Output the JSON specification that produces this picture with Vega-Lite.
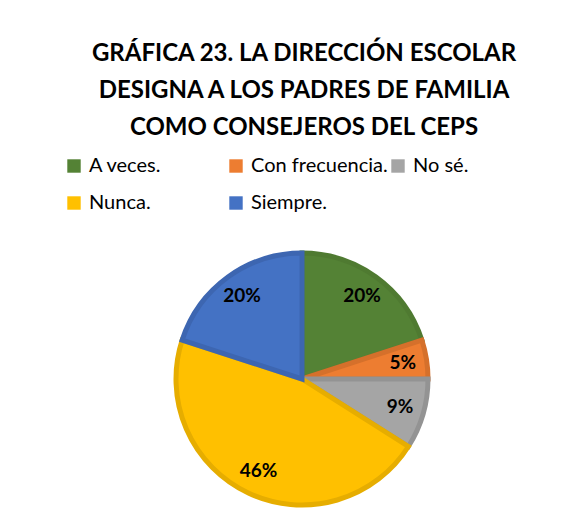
{
  "$schema": "https://vega.github.io/schema/vega-lite/v6.json",
  "width": 560,
  "height": 278,
  "autosize": {"type": "none"},
  "padding": {"left": 22, "top": 240, "right": 0, "bottom": 9},
  "background": "white",
  "title": {
    "text": ["GRÁFICA 23. LA DIRECCIÓN ESCOLAR", "DESIGNA A LOS PADRES DE FAMILIA", "COMO CONSEJEROS DEL CEPS"],
    "font": "Lato",
    "fontSize": 24,
    "fontWeight": "bold",
    "color": "#000000",
    "lineHeight": 37,
    "anchor": "middle",
    "frame": "group",
    "dx": 2,
    "offset": 16
  },
  "data": {
    "values": [
      {"cat": "A veces.", "v": 20, "lab": "20%"},
      {"cat": "Con frecuencia.", "v": 5, "lab": "5%"},
      {"cat": "No sé.", "v": 9, "lab": "9%"},
      {"cat": "Nunca.", "v": 46, "lab": "46%"},
      {"cat": "Siempre.", "v": 20, "lab": "20%"}
    ]
  },
  "encoding": {
    "theta": {"field": "v", "type": "quantitative", "stack": true},
    "order": {"field": "cat", "type": "nominal", "sort": "ascending"}
  },
  "layer": [
    {
      "mark": {"type": "arc", "outerRadius": 126, "strokeWidth": 5, "strokeJoin": "miter"},
      "encoding": {
        "fill": {
          "field": "cat", "type": "nominal",
          "scale": {"domain": ["A veces.", "Con frecuencia.", "No sé.", "Nunca.", "Siempre."],
                    "range": ["#548235", "#ED7D31", "#A5A5A5", "#FFC000", "#4472C4"]},
          "legend": {
            "title": null, "orient": "none", "legendX": 42, "legendY": -84, "direction": "horizontal",
            "columns": 3, "gridAlign": "all", "symbolType": "square", "symbolSize": 180,
            "symbolStrokeWidth": 0, "labelFont": "Lato", "labelFontSize": 20, "labelColor": "#000000",
            "rowPadding": 17, "columnPadding": 0, "labelOffset": 5, "labelLimit": 300
          }
        },
        "stroke": {
          "field": "cat", "type": "nominal",
          "scale": {"domain": ["A veces.", "Con frecuencia.", "No sé.", "Nunca.", "Siempre."],
                    "range": ["#4F7A31", "#D5702B", "#939393", "#E6AD00", "#3D66B1"]},
          "legend": null
        }
      }
    },
    {
      "mark": {"type": "text", "radius": 102, "font": "Lato", "fontSize": 19, "fontWeight": "bold", "color": "#000000"},
      "encoding": {"text": {"field": "lab", "type": "nominal"}}
    }
  ]
}
